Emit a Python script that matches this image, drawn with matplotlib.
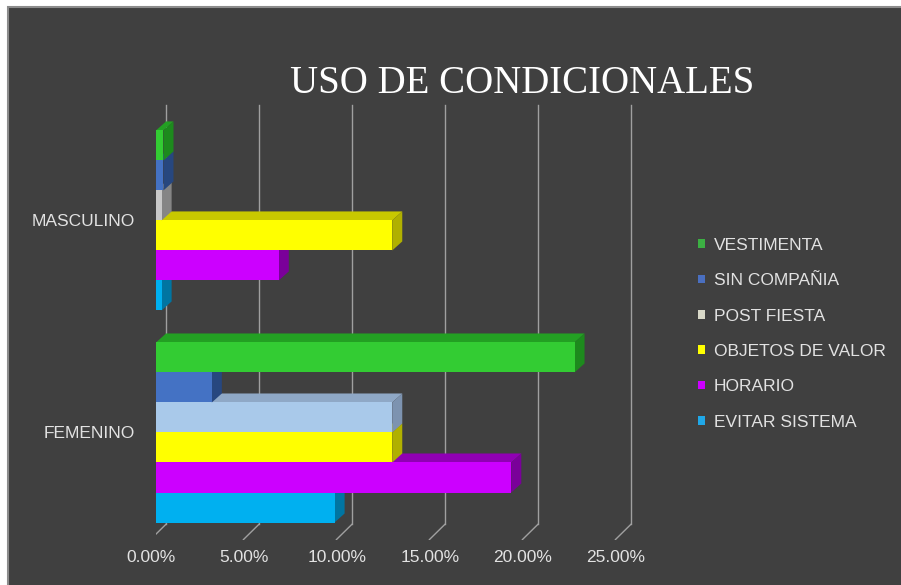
import matplotlib
matplotlib.use("Agg")
import matplotlib.pyplot as plt
from matplotlib.patches import Polygon, Patch, Rectangle
from matplotlib.transforms import ScaledTranslation

# --- DATOS ---
categorias = ["FEMENINO", "MASCULINO"]
series = ["VESTIMENTA", "SIN COMPAÑIA", "POST FIESTA",
          "OBJETOS DE VALOR", "HORARIO", "EVITAR SISTEMA"]
masculino = [0.4, 0.4, 0.3, 12.7, 6.6, 0.3]
femenino = [22.5, 3.0, 12.7, 12.7, 19.1, 9.6]
ticks = [0, 5, 10, 15, 20, 25]
tick_labels = ["0.00%", "5.00%", "10.00%", "15.00%", "20.00%", "25.00%"]

# colores (cara frontal, cara superior, cara lateral)
colores_masc = [("#33cc33", "#23a023", "#1d8a1d"),
                ("#4472c4", "#2f5597", "#27477f"),
                ("#c8c8c8", "#9a9a9a", "#858585"),
                ("#ffff00", "#c8c800", "#b0b000"),
                ("#cc00ff", "#9000b4", "#7a009a"),
                ("#00b0f0", "#0088bb", "#0075a2")]
colores_fem = list(colores_masc)
colores_fem[2] = ("#a9c9ea", "#8fa8c6", "#7d93b0")
colores_leyenda = ["#3cb043", "#4a6fc0", "#d8d8c8", "#ffff00", "#cc00ff", "#20a8e8"]

FONDO = "#404040"
TEXTO = "#e2e2e2"
plt.rcParams["font.family"] = ["Liberation Sans", "DejaVu Sans"]

fig = plt.figure(figsize=(9.01, 5.85), dpi=100, facecolor="white")
fig.add_artist(Rectangle((8 / 901, -0.01), 1, 1.01 - 7 / 585,
                         transform=fig.transFigure, facecolor=FONDO,
                         edgecolor="#8c8c8c", linewidth=1.5, zorder=0))

ax = fig.add_axes([156 / 901, 45 / 585, 27 * 18.6 / 901, 440 / 585])
ax.set_xlim(0, 27)
ax.set_ylim(-0.507, 1.568)
ax.set_facecolor("none")
for s in ax.spines.values():
    s.set_visible(False)

alto = 0.1415          # alto de cada barra
dx, dy = 0.54, 0.0425  # profundidad del efecto 3D
piso = -0.475

# lineas de division en la pared del fondo
for t in ticks:
    ax.plot([t + dx, t + dx], [piso + dy, 1.545], color="#a0a0a0", lw=1, zorder=1)
    ax.plot([t + dx, t - 0.3], [piso + dy, piso - 0.03], color="#a0a0a0", lw=1, zorder=1)


def barra3d(y, val, front, top, side):
    yb, yt = y - alto / 2, y + alto / 2
    ax.add_patch(Polygon([(0, yt), (val, yt), (val + dx, yt + dy), (dx, yt + dy)],
                         closed=True, facecolor=top, edgecolor="none", zorder=2))
    ax.add_patch(Polygon([(val, yb), (val, yt), (val + dx, yt + dy), (val + dx, yb + dy)],
                         closed=True, facecolor=side, edgecolor="none", zorder=2))
    ax.barh(y, val, height=alto, color=front, edgecolor="none", zorder=2)


for pos, valores, cols in [(1, masculino, colores_masc), (0, femenino, colores_fem)]:
    for i in range(len(series) - 1, -1, -1):
        barra3d(pos + (2.5 - i) * alto, valores[i], *cols[i])

ax.set_yticks([0, 1])
ax.set_yticklabels(categorias, color=TEXTO, fontsize=12.5)
ax.set_xticks(ticks)
ax.set_xticklabels(tick_labels, color=TEXTO, fontsize=12.5)
ax.tick_params(axis="y", length=0, pad=15)
ax.tick_params(axis="x", length=0, pad=7)
for lab in ax.get_xticklabels():
    lab.set_transform(lab.get_transform() + ScaledTranslation(-5 / 100, 0, fig.dpi_scale_trans))

fig.text(522 / 901, 1 - 84 / 585, "USO DE CONDICIONALES", color="white",
         fontsize=28, family="Liberation Serif", ha="center", va="center")

handles = [Patch(facecolor=c, edgecolor="none") for c in colores_leyenda]
ax.legend(handles, series, loc="upper left", bbox_to_anchor=(698 / 901, 1 - 238 / 585),
          bbox_transform=fig.transFigure, frameon=False, labelcolor=TEXTO,
          prop={"family": "Liberation Sans", "size": 12.5},
          handlelength=0.4, handleheight=0.4, handletextpad=0.5,
          labelspacing=1.17, borderpad=0, borderaxespad=0)

fig.savefig("out.png", dpi=100, facecolor="white")
